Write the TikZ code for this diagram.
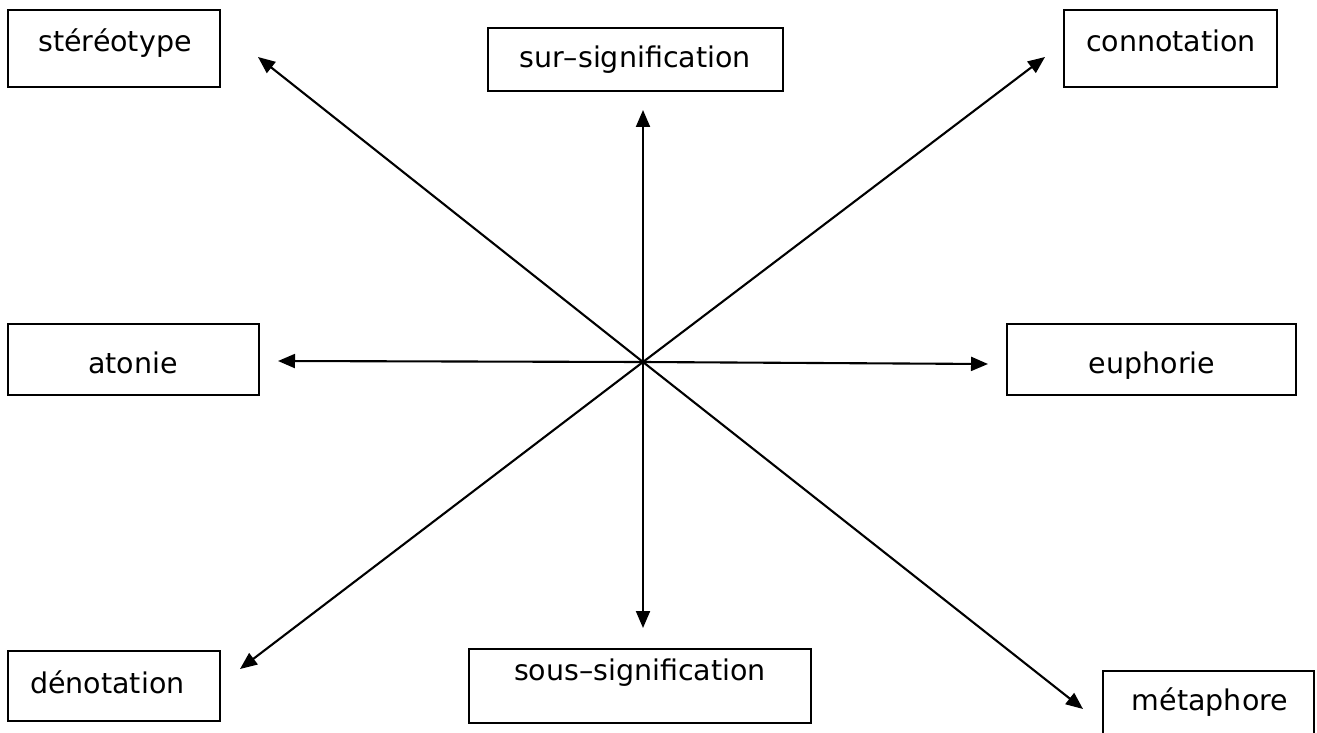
\documentclass[tikz,border=0pt]{standalone}
\usepackage{fontspec}
\setmainfont{DejaVu Sans}
\usetikzlibrary{arrows.meta}
\begin{document}
\begin{tikzpicture}[x=1pt,y=-1pt,
  frame/.style={draw, line width=1.9pt, inner sep=0pt},
  word/.style={font=\fontsize{28.5}{34}\selectfont, anchor=base, inner sep=0pt},
  ray/.style={line width=2.1pt, -{Triangle[length=17pt,width=14pt]}}]
\useasboundingbox (0,0) rectangle (1317,733);
\clip (0,0) rectangle (1317,733);

% frames
\node[frame, minimum width=212pt, minimum height=77pt] (ster) at (114,48.5) {};
\node[frame, minimum width=295pt, minimum height=63pt] (sur) at (635.5,59.5) {};
\node[frame, minimum width=213pt, minimum height=77pt] (conn) at (1170.5,48.5) {};
\node[frame, minimum width=251pt, minimum height=71pt] (aton) at (133.5,359.5) {};
\node[frame, minimum width=289pt, minimum height=71pt] (euph) at (1151.5,359.5) {};
\node[frame, minimum width=212pt, minimum height=70pt] (deno) at (114,686) {};
\node[frame, minimum width=342pt, minimum height=74pt] (sous) at (640,686) {};
\node[frame, minimum width=211pt, minimum height=79pt] (meta) at (1208.5,710.5) {};

% labels
\node[word] (sterT) at (115,52) {stéréotype};
\node[word] (surT) at (635,68) {sur–signification};
\node[word] (connT) at (1171,52) {connotation};
\node[word] (atonT) at (133,373) {atonie};
\node[word] (euphT) at (1152,373) {euphorie};
\node[word, anchor=base west] (denoT) at (30,693) {dénotation};
\node[word] (sousT) at (640,680) {sous–signification};
\node[word] (metaT) at (1210,710) {métaphore};

% rays from the centre
\coordinate (c) at (643,362);
\coordinate (tSter) at (258,57);
\coordinate (tSur) at (643,110);
\coordinate (tConn) at (1045,57);
\coordinate (tAton) at (278,361);
\coordinate (tEuph) at (988,364);
\coordinate (tDeno) at (240,669);
\coordinate (tSous) at (643,628);
\coordinate (tMeta) at (1083,709);
\foreach \t in {tSter,tSur,tConn,tAton,tEuph,tDeno,tSous,tMeta}
  \draw[ray] (c) -- (\t);
\end{tikzpicture}
\end{document}
